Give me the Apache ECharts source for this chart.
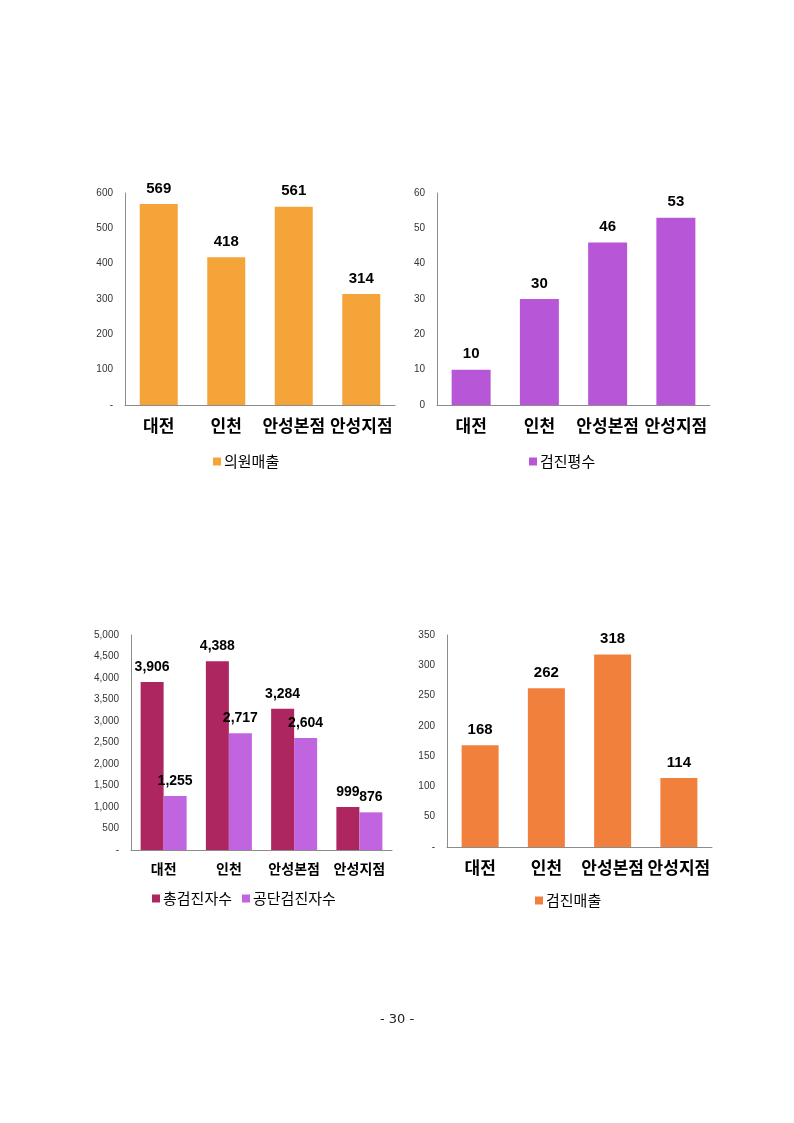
<!DOCTYPE html>
<html>
<head>
<meta charset="utf-8">
<script src="https://cdn.jsdelivr.net/npm/echarts@6/dist/echarts.min.js"></script>
<style>
html,body{margin:0;padding:0;background:#fff;}
#c{width:794px;height:1123px;}
</style>
</head>
<body>
<div id="c"></div>
<script>
const categories = ['대전', '인천', '안성본점', '안성지점'];
const clinicSales = [569, 418, 561, 314];          // 의원매출
const checkupArea = [10, 30, 46, 53];              // 검진평수
const totalCheckups = [3906, 4388, 3284, 999];     // 총검진자수
const nhisCheckups = [1255, 2717, 2604, 876];      // 공단검진자수
const checkupSales = [168, 262, 318, 114];         // 검진매출

const chart = echarts.init(document.getElementById('c'), null, {renderer: 'canvas'});

const numFont = '"Liberation Sans", Arial, sans-serif';
const korFont = '"Noto Sans CJK KR", sans-serif';

function dashZero(v) { return v === 0 ? '-' : v.toLocaleString('en-US'); }

function xAx(gi, fs) {
  return {
    type: 'category', gridIndex: gi, data: categories,
    axisLine: {lineStyle: {color: '#8c8c8c', width: 1}},
    axisTick: {show: false},
    axisLabel: {color: '#000', fontFamily: korFont, fontWeight: 'bold', fontSize: fs, margin: 12, interval: 0}
  };
}
function yAx(gi, max, interval, fmt) {
  return {
    type: 'value', gridIndex: gi, min: 0, max: max, interval: interval,
    axisLine: {show: true, lineStyle: {color: '#8c8c8c', width: 1}},
    axisTick: {show: false},
    splitLine: {show: false},
    axisLabel: {color: '#333', fontFamily: numFont, fontSize: 10, margin: 12, formatter: fmt}
  };
}
const labelStyle = {show: true, position: 'top', distance: 8, color: '#000', fontFamily: numFont, fontWeight: 'bold', fontSize: 15};
const legText = {fontFamily: korFont, fontSize: 15, color: '#000', padding: [0,0,0,-2]};

chart.setOption({
  animation: false,
  grid: [
    {left: 125, top: 193, width: 270, height: 212},
    {left: 437, top: 193, width: 273, height: 212},
    {left: 131, top: 635, width: 261, height: 215},
    {left: 447, top: 635, width: 265, height: 212}
  ],
  xAxis: [xAx(0, 17), xAx(1, 17), xAx(2, 14), xAx(3, 17)],
  yAxis: [
    yAx(0, 600, 100, dashZero),
    yAx(1, 60, 10, v => String(v)),
    yAx(2, 5000, 500, dashZero),
    yAx(3, 350, 50, dashZero)
  ],
  legend: [
    {left: 208, top: 449, data: ['의원매출'], itemWidth: 8, itemHeight: 8, icon: 'rect', textStyle: legText},
    {left: 524, top: 449, data: ['검진평수'], itemWidth: 8, itemHeight: 8, icon: 'rect', textStyle: legText},
    {left: 147, top: 886, data: ['총검진자수', '공단검진자수'], itemWidth: 8, itemHeight: 8, itemGap: 10, icon: 'rect', textStyle: legText},
    {left: 530, top: 888, data: ['검진매출'], itemWidth: 8, itemHeight: 8, icon: 'rect', textStyle: legText}
  ],
  graphic: [
    {type: 'text', left: 'center', top: 1013, style: {text: '- 30 -', fontFamily: '"DejaVu Sans", sans-serif', fontSize: 13, fill: '#222'}}
  ],
  series: [
    {name: '의원매출', type: 'bar', xAxisIndex: 0, yAxisIndex: 0, data: clinicSales, barWidth: 38,
     itemStyle: {color: '#F4A439'}, label: labelStyle},
    {name: '검진평수', type: 'bar', xAxisIndex: 1, yAxisIndex: 1, data: checkupArea, barWidth: 39,
     itemStyle: {color: '#B757D8'}, label: labelStyle},
    {name: '총검진자수', type: 'bar', xAxisIndex: 2, yAxisIndex: 2, data: totalCheckups, barWidth: 23, barGap: '0%',
     itemStyle: {color: '#AD2660'}, label: Object.assign({}, labelStyle, {fontSize: 14, formatter: p => p.value.toLocaleString('en-US')})},
    {name: '공단검진자수', type: 'bar', xAxisIndex: 2, yAxisIndex: 2, data: nhisCheckups, barWidth: 23, barGap: '0%',
     itemStyle: {color: '#C164E0'}, label: Object.assign({}, labelStyle, {fontSize: 14, formatter: p => p.value.toLocaleString('en-US')})},
    {name: '검진매출', type: 'bar', xAxisIndex: 3, yAxisIndex: 3, data: checkupSales, barWidth: 37,
     itemStyle: {color: '#F1803D'}, label: labelStyle}
  ]
});
</script>
</body>
</html>
